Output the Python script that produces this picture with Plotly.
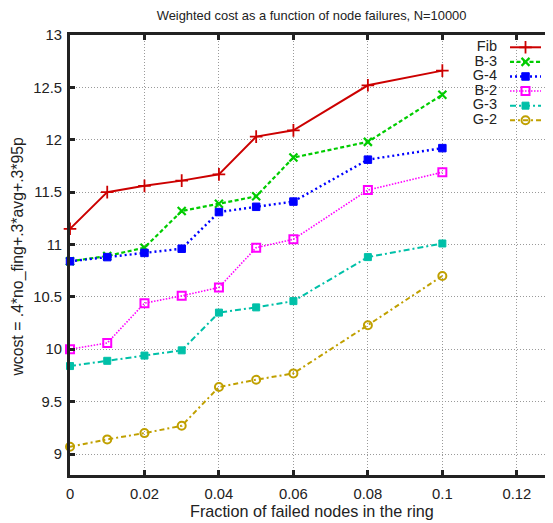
import plotly.graph_objects as go

# ---- data ----
x_frac = [0, 0.01, 0.02, 0.03, 0.04, 0.05, 0.06, 0.08, 0.1]
fib = [11.15, 11.50, 11.56, 11.61, 11.67, 12.03, 12.09, 12.52, 12.66]
b3 = [10.84, 10.89, 10.97, 11.32, 11.39, 11.46, 11.83, 11.98, 12.43]
g4 = [10.84, 10.88, 10.92, 10.96, 11.31, 11.36, 11.41, 11.81, 11.92]
b2 = [10.00, 10.06, 10.44, 10.51, 10.59, 10.97, 11.05, 11.52, 11.69]
g3 = [9.84, 9.89, 9.94, 9.99, 10.35, 10.40, 10.46, 10.88, 11.01]
g2 = [9.07, 9.14, 9.20, 9.27, 9.64, 9.71, 9.77, 10.23, 10.70]

series_names = ["Fib", "B-3", "G-4", "B-2", "G-3", "G-2"]
series_vals = [fib, b3, g4, b2, g3, g2]

x_ticks = [0, 0.02, 0.04, 0.06, 0.08, 0.1, 0.12]
x_tick_labels = ["0", "0.02", "0.04", "0.06", "0.08", "0.1", "0.12"]
y_ticks = [9, 9.5, 10, 10.5, 11, 11.5, 12, 12.5, 13]
y_tick_labels = ["9", "9.5", "10", "10.5", "11", "11.5", "12", "12.5", "13"]

# ---- styles ----
styles = [
    dict(color="#cc0000", dash="solid", width=2, symbol="cross-thin", size=9, lw=1.8),
    dict(color="#00cc00", dash="4px,2.5px", width=2.2, symbol="x-thin", size=8, lw=2.2),
    dict(color="#0000ff", dash="2px,3px", width=2.4, symbol="square", size=7.5, lw=1),
    dict(color="#ff00ff", dash="1.5px,1.5px", width=1.6, symbol="square-open", size=8, lw=2),
    dict(color="#00c0a8", dash="6px,3px,2px,3px", width=2, symbol="square", size=7, lw=1),
    dict(color="#c0a000", dash="5px,3px,2px,3px", width=2, symbol="circle-open", size=8, lw=2),
]

FONT = "Liberation Sans Narrow, Arial Narrow, sans-serif"
TXT = "#222222"

# page is rendered with an 8px body margin; compensate
OFF = 8
PW, PH = 553, 523           # window size
W, H = PW - OFF, PH - OFF   # figure size
# plot area in window pixels (from reference)
PL, PR, PT, PB = 69.8, 553, 35, 475.2
L = PL - OFF
T = PT - OFF
R = W - (PR - OFF)
B = H - (PB - OFF)
plot_w = PR - PL
plot_h = PB - PT
PX_PER_X = 74.5 / 0.02


def px_to_paper(px, py):
    return (px - PL) / plot_w, (PB - py) / plot_h


fig = go.Figure()
for name, vals, st in zip(series_names, series_vals, styles):
    fig.add_trace(go.Scatter(
        x=x_frac, y=vals, name=name, mode="lines+markers",
        line=dict(color=st["color"], dash=st["dash"], width=st["width"]),
        marker=dict(symbol=st["symbol"], size=st["size"], color=st["color"],
                    line=dict(color=st["color"], width=st["lw"])),
        showlegend=False, cliponaxis=False,
    ))

# ---- gnuplot-style key (text left, sample right) on an overlay pixel axis ----
key_top = 47.3
key_step = 14.6
key_y = [key_top + i * key_step for i in range(len(series_names))]
for yy, st in zip(key_y, styles):
    fig.add_trace(go.Scatter(
        x=[510, 541], y=[yy, yy], mode="lines", xaxis="x2", yaxis="y2",
        line=dict(color=st["color"], dash=st["dash"], width=st["width"]),
        showlegend=False, hoverinfo="skip",
    ))
    fig.add_trace(go.Scatter(
        x=[525.5], y=[yy], mode="markers", xaxis="x2", yaxis="y2",
        marker=dict(symbol=st["symbol"], size=st["size"], color=st["color"],
                    line=dict(color=st["color"], width=st["lw"])),
        showlegend=False, hoverinfo="skip",
    ))
fig.add_trace(go.Scatter(
    x=[497] * len(series_names), y=key_y, mode="text", text=series_names,
    textposition="middle left", xaxis="x2", yaxis="y2",
    textfont=dict(family=FONT, size=14.5, color=TXT),
    showlegend=False, hoverinfo="skip",
))

# axis titles placed like gnuplot
ax, ay = px_to_paper(311.6, 511)
fig.add_annotation(x=ax, y=ay, xref="paper", yref="paper",
                   text="Fraction of failed nodes in the ring", showarrow=False,
                   xanchor="center", yanchor="middle",
                   font=dict(family=FONT, size=16.2, color=TXT))
ax, ay = px_to_paper(18, 256.5)
fig.add_annotation(x=ax, y=ay, xref="paper", yref="paper",
                   text="wcost = .4*no_fing+.3*avg+.3*95p", showarrow=False,
                   textangle=-90, xanchor="center", yanchor="middle",
                   font=dict(family=FONT, size=15.8, color=TXT))

xmax = plot_w / PX_PER_X

axis_common = dict(
    showgrid=True, gridcolor="#9a9a9a", griddash="1px,2px", gridwidth=1,
    showline=True, linecolor="#222222", linewidth=3, mirror="ticks",
    ticks="inside", ticklen=5, tickwidth=3, tickcolor="#222222",
    zeroline=False, automargin=False,
    tickfont=dict(family=FONT, size=14.8, color=TXT),
)

fig.update_layout(
    width=W, height=H,
    margin=dict(l=L, r=R, t=T, b=B),
    paper_bgcolor="white", plot_bgcolor="white",
    font=dict(family=FONT, size=14, color=TXT),
    title=dict(text="Weighted cost as a function of node failures, N=10000",
               x=(311.6 - OFF) / W, xanchor="center",
               y=1 - 3 / H, yanchor="top", pad=dict(t=0, b=0),
               font=dict(family=FONT, size=12.9, color=TXT)),
    xaxis=dict(range=[0, xmax], tickvals=x_ticks, ticktext=x_tick_labels,
               ticklabelstandoff=3, **axis_common),
    yaxis=dict(range=[8.8, 13], tickvals=y_ticks, ticktext=y_tick_labels,
               ticklabelstandoff=2, **axis_common),
    xaxis2=dict(domain=[0, 1], range=[PL, PR], overlaying="x", anchor="y2",
                visible=False, fixedrange=True),
    yaxis2=dict(domain=[0, 1], range=[PB, PT], overlaying="y", anchor="x2",
                visible=False, fixedrange=True),
)

fig.write_html("out.html")
